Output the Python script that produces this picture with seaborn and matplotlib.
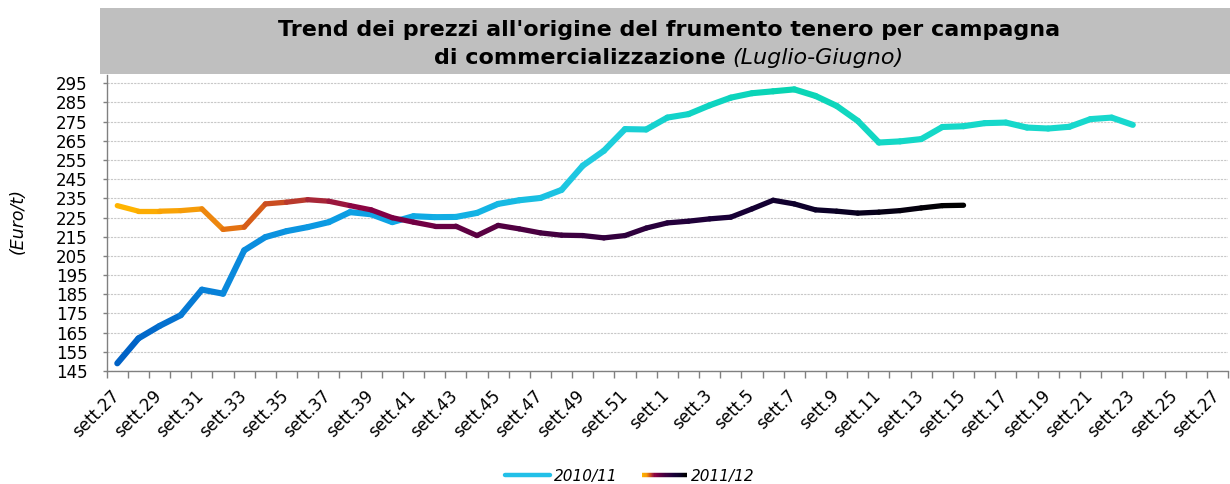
import numpy as np
import pandas as pd
import matplotlib
matplotlib.use("Agg")
import matplotlib.pyplot as plt
import seaborn as sns
from matplotlib.colors import LinearSegmentedColormap
from matplotlib.patches import Rectangle
from matplotlib.legend_handler import HandlerBase
from matplotlib.collections import LineCollection
from matplotlib.lines import Line2D
from matplotlib.transforms import ScaledTranslation

# ---------------- data ----------------
weeks = list(range(27, 53)) + list(range(1, 28))
categories = [f"sett.{w}" for w in weeks]

prices_2010_11 = [
    149.0, 162.0, 168.5, 174.1, 187.4, 185.3, 207.9, 214.8, 217.9, 220.0,
    222.6, 227.8, 226.7, 222.6, 225.7, 225.2, 225.3, 227.4, 232.1, 234.0,
    235.2, 239.4, 252.0, 259.8, 271.1, 270.9, 277.1, 278.9, 283.5, 287.5,
    289.8, 290.8, 291.8, 288.4, 283.2, 275.4, 264.1, 264.7, 265.9, 272.2,
    272.6, 274.2, 274.5, 271.9, 271.4, 272.3, 276.3, 277.1, 273.3,
]
prices_2011_12 = [
    231.2, 228.3, 228.3, 228.6, 229.5, 218.8, 220.0, 232.1, 233.0, 234.3,
    233.5, 231.2, 229.0, 224.9, 222.6, 220.5, 220.5, 215.6, 220.9, 219.1,
    217.0, 215.8, 215.6, 214.4, 215.6, 219.5, 222.2, 223.1, 224.3, 225.2,
    229.5, 234.0, 232.1, 229.0, 228.3, 227.3, 227.8, 228.6, 230.0, 231.2,
    231.4,
]
series_names = ["2010/11", "2011/12"]
y_ticks = list(range(145, 296, 10))

title_line1 = "Trend dei prezzi all'origine del frumento tenero per campagna"
title_line2_bold = "di commercializzazione"
title_line2_italic = "(Luglio-Giugno)"
y_label = "(Euro/t)"

# ---------------- style ----------------
sns.set_theme(style="white")
plt.rcParams["font.family"] = ["DejaVu Sans"]
for k in ("text.color", "axes.labelcolor", "xtick.color", "ytick.color"):
    plt.rcParams[k] = "black"

cmap_2010 = LinearSegmentedColormap.from_list(
    "c2010",
    [(0.0, "#0062C6"), (0.10, "#0A88DC"), (0.22, "#0C9EE4"), (0.36, "#14B4E4"),
     (0.47, "#20CCE0"), (0.56, "#12D4C8"), (0.66, "#08D4B2"), (0.76, "#14D8C6"),
     (1.0, "#18D8CE")])
cmap_2011 = LinearSegmentedColormap.from_list(
    "c2011",
    [(0.0, "#FFB400"), (0.08, "#F59A0A"), (0.13, "#E26E12"), (0.18, "#C84A22"),
     (0.23, "#A82838"), (0.29, "#880044"), (0.40, "#620042"), (0.55, "#3A0040"),
     (0.72, "#1A0038"), (0.86, "#0A0026"), (1.0, "#000000")])

W, H = 1230, 484
fig = plt.figure(figsize=(W / 100, H / 100), dpi=100)
ax_left, ax_right, ax_top, ax_bottom = 106.7, 1228.0, 75.0, 371.0
ax = fig.add_axes([ax_left / W, (H - ax_bottom) / H,
                   (ax_right - ax_left) / W, (ax_bottom - ax_top) / H])


def gradient_line(values, cmap, lw, z):
    n = len(values)
    rows = []
    for k in range(n - 1):
        rows.append((k, values[k], k))
        rows.append((k + 1, values[k + 1], k))
    df = pd.DataFrame(rows, columns=["x", "y", "seg"])
    pal = {k: cmap(k / (n - 2)) for k in range(n - 1)}
    sns.lineplot(data=df, x="x", y="y", hue="seg", palette=pal, estimator=None,
                 sort=False, legend=False, ax=ax, linewidth=lw,
                 solid_capstyle="round", solid_joinstyle="round", zorder=z)


gradient_line(prices_2010_11, cmap_2010, 4.4, 3)
gradient_line(prices_2011_12, cmap_2011, 3.8, 4)

ax.set_xlim(-0.5, len(categories) - 0.5)
ax.set_ylim(145, 299.3)
ax.set_yticks(y_ticks)
ax.set_yticklabels([str(v) for v in y_ticks])
ax.set_xticks(range(0, len(categories), 2))
ax.set_xticklabels(categories[::2], rotation=45, ha="right",
                   rotation_mode="anchor")
ax.set_xticks(np.arange(-0.5, len(categories), 1), minor=True)
ax.tick_params(axis="x", which="major", length=0, pad=7, labelsize=12)
ax.tick_params(axis="x", which="minor", length=5, color="#808080", width=1,
               bottom=True)
ax.tick_params(axis="y", which="major", length=3, color="#808080", width=1,
               pad=11, labelsize=12, left=True)
ax.grid(axis="y", color="#c8c8c8", linestyle=(0, (2, 1)), linewidth=0.8)
ax.grid(axis="x", visible=False)
ax.set_xlabel("")
ax.set_ylabel("")
for s in ("top", "right"):
    ax.spines[s].set_visible(False)
for s in ("left", "bottom"):
    ax.spines[s].set_color("#808080")
    ax.spines[s].set_linewidth(1)

offset = ScaledTranslation(-7 / 100, -6 / 100, fig.dpi_scale_trans)
for lab in ax.get_xticklabels():
    lab.set_transform(lab.get_transform() + offset)

fig.text(18 / W, 1 - 221 / H, y_label, rotation=90, style="italic",
         fontsize=12.5, ha="center", va="center")

# title box
fig.add_artist(Rectangle((100 / W, (H - 74) / H), (W - 100) / W, 66 / H,
                         transform=fig.transFigure, facecolor="#bfbfbf",
                         edgecolor="none", zorder=0))
tcx = 669
tfs = 16
fig.text(tcx / W, 1 - 30 / H, title_line1, weight="bold", fontsize=tfs,
         ha="center", va="center")
renderer = fig.canvas.get_renderer()
ta = fig.text(0, 1 - 58 / H, title_line2_bold, weight="bold", fontsize=tfs,
              ha="left", va="center")
tb = fig.text(0, 1 - 58 / H, title_line2_italic, style="italic", fontsize=tfs,
              ha="left", va="center")
wa = ta.get_window_extent(renderer).width
wb = tb.get_window_extent(renderer).width
gap = 7
x0 = tcx - (wa + gap + wb) / 2
ta.set_x(x0 / W)
tb.set_x((x0 + wa + gap) / W)


# legend
class GradientHandler(HandlerBase):
    def __init__(self, cmap, lw):
        super().__init__()
        self.cmap = cmap
        self.lw = lw

    def create_artists(self, legend, orig_handle, xdescent, ydescent, width,
                       height, fontsize, trans):
        n = 40
        xs = np.linspace(-xdescent, width - xdescent, n + 1)
        yy = height / 2 - ydescent
        segs = [[(xs[k], yy), (xs[k + 1], yy)] for k in range(n)]
        lc = LineCollection(segs, colors=[self.cmap(k / (n - 1)) for k in range(n)],
                            linewidths=self.lw, transform=trans)
        return [lc]


h1 = Line2D([], [], color="#22C0E8", linewidth=3.2, solid_capstyle="round")
h2 = Line2D([], [], color="#000000", linewidth=3.2)
fig.legend(handles=[h1, h2], labels=series_names, loc="center",
           bbox_to_anchor=(630 / W, 1 - 476 / H), ncol=2, frameon=False,
           prop={"style": "italic", "size": 11}, handlelength=2.9,
           handletextpad=0.3, columnspacing=1.6,
           handler_map={h2: GradientHandler(cmap_2011, 3.2)})

fig.savefig("out.png", dpi=100)
